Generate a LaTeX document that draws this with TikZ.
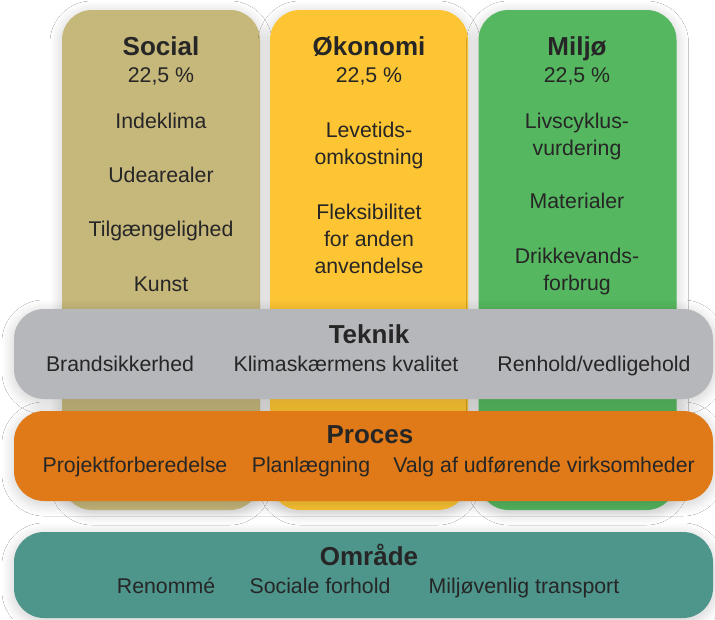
\documentclass[tikz,border=0pt]{standalone}
\usepackage{fontspec}
\setmainfont{Liberation Sans}
\usetikzlibrary{shadows.blur}
\definecolor{socialc}{HTML}{C6B77B}
\definecolor{okoc}{HTML}{FDC533}
\definecolor{miljoc}{HTML}{55B75F}
\definecolor{teknikc}{HTML}{B6B7BB}
\definecolor{procesc}{HTML}{E07A18}
\definecolor{omradec}{HTML}{4E958B}
\definecolor{txt}{HTML}{262626}
\tikzset{
  x=1pt, y=-1pt,
  softshadow/.style={blur shadow={shadow xshift=0pt, shadow yshift=-3pt, shadow scale=1, shadow blur radius=12pt, shadow blur steps=24, shadow opacity=20}},
  colbox/.style={rectangle, rounded corners=30pt, minimum width=198pt, minimum height=500pt, inner sep=0pt, softshadow},
  bandbox/.style={rectangle, rounded corners=30pt, minimum width=699pt, minimum height=90pt, inner sep=0pt, softshadow},
  ttl/.style={anchor=base, inner sep=0pt, text=txt, font=\bfseries\fontsize{26}{30}\selectfont},
  itm/.style={anchor=base, inner sep=0pt, text=txt, font=\fontsize{21.3}{27}\selectfont},
}
\begin{document}
\begin{tikzpicture}
\useasboundingbox[fill=white] (0,0) rectangle (715,619);
% columns
\node[colbox, fill=socialc] (social) at (161,260) {};
\node[colbox, fill=okoc] (oko) at (369,260) {};
\node[colbox, fill=miljoc] (miljo) at (577.5,260) {};
% column texts
\node[ttl] (socialT) at (161,55) {Social};
\node[itm] (socialP) at (161,82) {22,5 \%};
\node[itm] (s1) at (161,128) {Indeklima};
\node[itm] (s2) at (161,182) {Udearealer};
\node[itm] (s3) at (161,236) {Tilgængelighed};
\node[itm] (s4) at (161,291) {Kunst};
\node[ttl] (okoT) at (369,55) {Økonomi};
\node[itm] (okoP) at (369,82) {22,5 \%};
\node[itm] (o1a) at (369,137) {Levetids-};
\node[itm] (o1b) at (369,164) {omkostning};
\node[itm] (o2a) at (369,219) {Fleksibilitet};
\node[itm] (o2b) at (369,246) {for anden};
\node[itm] (o2c) at (369,273) {anvendelse};
\node[ttl] (miljoT) at (577,55) {Miljø};
\node[itm] (miljoP) at (577,82) {22,5 \%};
\node[itm] (m1a) at (577,128) {Livscyklus-};
\node[itm] (m1b) at (577,155) {vurdering};
\node[itm] (m2) at (577,208) {Materialer};
\node[itm] (m3a) at (577,263) {Drikkevands-};
\node[itm] (m3b) at (577,290) {forbrug};
% bands
\node[bandbox, fill=teknikc] (teknik) at (363.5,354) {};
\node[bandbox, fill=procesc] (proces) at (363.5,456) {};
\node[bandbox, fill=omradec, minimum height=86pt] (omrade) at (363.5,575) {};
% band texts
\node[ttl] (teknikT) at (369,343) {Teknik};
\node[itm] (t1) at (120,371) {Brandsikkerhed};
\node[itm] (t2) at (346,371) {Klimaskærmens kvalitet};
\node[itm] (t3) at (594,371) {Renhold/vedligehold};
\node[ttl] (procesT) at (370,443) {Proces};
\node[itm] (p1) at (135,472) {Projektforberedelse};
\node[itm] (p2) at (311,472) {Planlægning};
\node[itm] (p3) at (544,472) {Valg af udførende virksomheder};
\node[ttl] (omradeT) at (369,565) {Område};
\node[itm] (a1) at (166,593) {Renommé};
\node[itm] (a2) at (320,593) {Sociale forhold};
\node[itm] (a3) at (524,593) {Miljøvenlig transport};
\end{tikzpicture}
\end{document}
